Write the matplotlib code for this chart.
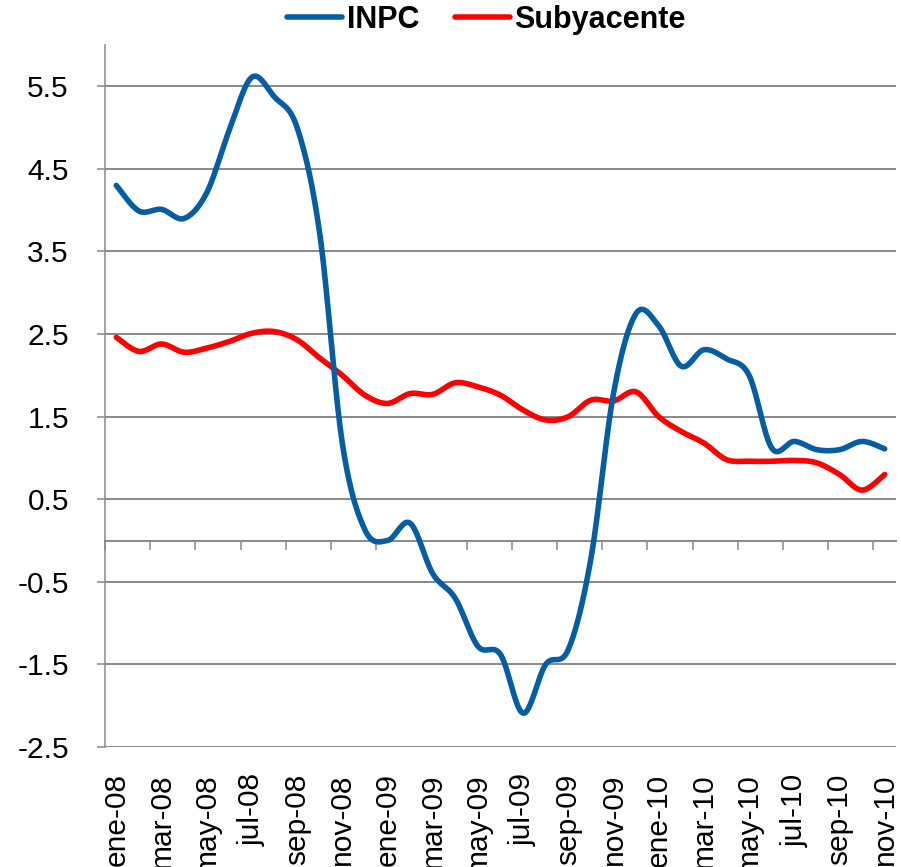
import numpy as np
import matplotlib
matplotlib.use("Agg")
import matplotlib.pyplot as plt

plt.rcParams['font.family'] = ['Liberation Sans', 'DejaVu Sans']

# monthly data, ene-08 .. nov-10
months = ['ene-08', 'feb-08', 'mar-08', 'abr-08', 'may-08', 'jun-08', 'jul-08', 'ago-08',
          'sep-08', 'oct-08', 'nov-08', 'dic-08', 'ene-09', 'feb-09', 'mar-09', 'abr-09',
          'may-09', 'jun-09', 'jul-09', 'ago-09', 'sep-09', 'oct-09', 'nov-09', 'dic-09',
          'ene-10', 'feb-10', 'mar-10', 'abr-10', 'may-10', 'jun-10', 'jul-10', 'ago-10',
          'sep-10', 'oct-10', 'nov-10']

inpc = [4.30, 3.99, 4.01, 3.90, 4.21, 4.97, 5.61, 5.37, 5.00, 3.72, 1.18, 0.13,
        0.00, 0.21, -0.40, -0.70, -1.28, -1.38, -2.09, -1.50, -1.32, -0.22, 1.78, 2.75,
        2.60, 2.11, 2.31, 2.20, 2.00, 1.12, 1.20, 1.10, 1.10, 1.20, 1.11]

subyacente = [2.46, 2.29, 2.38, 2.28, 2.33, 2.41, 2.51, 2.53, 2.43, 2.21, 2.00, 1.76,
              1.66, 1.78, 1.77, 1.91, 1.86, 1.76, 1.58, 1.46, 1.50, 1.70, 1.69, 1.80,
              1.50, 1.32, 1.18, 0.98, 0.96, 0.96, 0.97, 0.94, 0.80, 0.61, 0.80]

yticks = [-2.5, -1.5, -0.5, 0.5, 1.5, 2.5, 3.5, 4.5, 5.5]

blue = '#055DA3'
red = '#FF0000'
grid_c = '#898989'


def smooth(x, y, n=20):
    # Excel-like smoothed line: Catmull-Rom through every data point
    x = np.asarray(x, float)
    y = np.asarray(y, float)
    px = np.concatenate([[x[0]], x, [x[-1]]])
    py = np.concatenate([[y[0]], y, [y[-1]]])
    xs, ys = [], []
    t = np.linspace(0, 1, n, endpoint=False)
    for i in range(1, len(px) - 2):
        p0, p1, p2, p3 = (np.array([px[j], py[j]]) for j in (i - 1, i, i + 1, i + 2))
        c1 = p1 + (p2 - p0) / 6
        c2 = p2 - (p3 - p1) / 6
        b = ((1 - t) ** 3)[:, None] * p1 + (3 * (1 - t) ** 2 * t)[:, None] * c1 \
            + (3 * (1 - t) * t ** 2)[:, None] * c2 + (t ** 3)[:, None] * p2
        xs.append(b[:, 0])
        ys.append(b[:, 1])
    xs.append([x[-1]])
    ys.append([y[-1]])
    return np.concatenate(xs), np.concatenate(ys)


fig = plt.figure(figsize=(9.01, 8.67), dpi=100)
ax = fig.add_axes([105 / 901, 120 / 867, 791 / 901, 702 / 867])

x = np.arange(len(months))
ymin, ymax = -2.5, 6.0

sx, sy = smooth(x, inpc)
ax.plot(sx, sy, color=blue, lw=4, solid_capstyle='round', label='INPC', zorder=4)
sx, sy = smooth(x, subyacente)
ax.plot(sx, sy, color=red, lw=4, solid_capstyle='round', label='Subyacente', zorder=3)

ax.set_xlim(-0.5, len(months) - 0.5)
ax.set_ylim(ymin, ymax)
ax.set_yticks(yticks)
ax.set_yticklabels([f'{v:.1f}' for v in yticks])
ax.yaxis.grid(True, color=grid_c, lw=1.4)
ax.set_axisbelow(True)

ax.set_xticks(x[::2])
ax.set_xticklabels(months[::2], rotation=90, va='top', ha='center')
ax.tick_params(axis='x', length=0, pad=19, labelsize=21.5)
ax.tick_params(axis='y', direction='out', length=6, width=1.1, color=grid_c,
               pad=20, labelsize=21.5)

for s in ['top', 'right', 'bottom']:
    ax.spines[s].set_visible(False)
ax.spines['left'].set_color(grid_c)
ax.spines['left'].set_linewidth(1.1)

# horizontal axis crossing at zero with tick marks between categories
zero = ax.secondary_xaxis((0 - ymin) / (ymax - ymin))
zero.set_xticks(np.arange(-0.5, len(months) - 1, 2))
zero.tick_params(axis='x', direction='out', length=6.5, width=1.1, color=grid_c,
                 labelbottom=False, labeltop=False)
zero.spines['bottom'].set_color(grid_c)
zero.spines['bottom'].set_linewidth(1.4)

fig.legend(loc='center', bbox_to_anchor=(0.54, 0.977), ncol=2, frameon=False,
           prop={'weight': 'bold', 'size': 22}, handlelength=1.8,
           handletextpad=0.16, columnspacing=1.15)

fig.savefig('out.png', dpi=100)
